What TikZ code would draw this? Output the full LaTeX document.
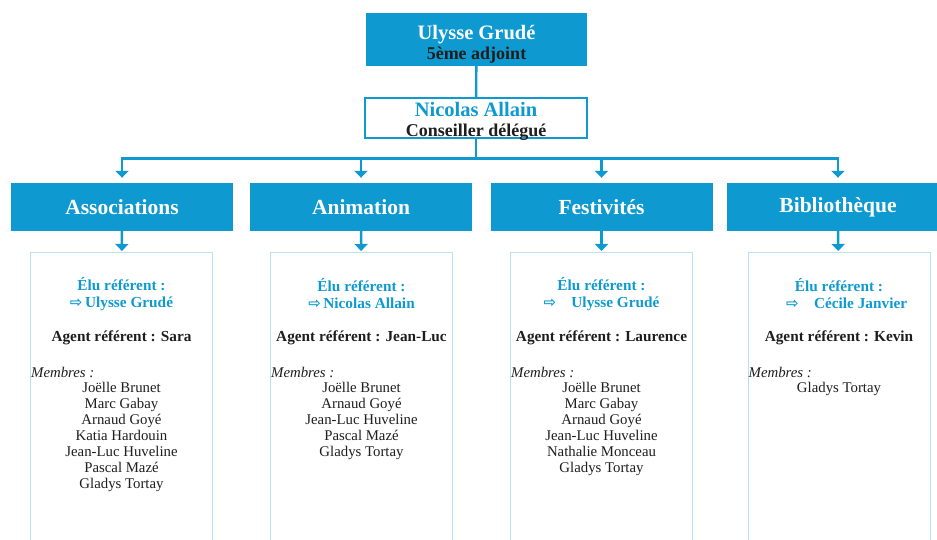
\documentclass[tikz,border=0pt]{standalone}
\usepackage{fontspec}
\setmainfont{Liberation Serif}
\newfontfamily\symfont{DejaVu Sans}
\usetikzlibrary{positioning}
\usetikzlibrary{arrows.meta}
\definecolor{bleu}{RGB}{14,154,208}
\definecolor{bleuclair}{RGB}{188,224,240}
\definecolor{encre}{RGB}{30,30,30}
\tikzstyle{lien}=[draw=bleu, line width=2.4pt]
\tikzstyle{fleche}=[lien, -{Triangle[length=7pt,width=13pt]}]
\tikzstyle{chef}=[fill=bleu, minimum width=221pt, align=center, inner sep=0pt, text height=46.5pt, text depth=6.5pt, font=\bfseries\fontsize{18}{20}\selectfont]
\tikzstyle{conseil}=[draw=bleu, line width=1.2pt, fill=white, minimum width=222pt, align=center, inner sep=0pt, text height=39pt, text depth=1pt, font=\bfseries\fontsize{18}{20.5}\selectfont]
\tikzstyle{pole}=[fill=bleu, minimum width=222pt, minimum height=48pt, text=white, font=\bfseries\fontsize{21.5}{22}\selectfont]
\tikzstyle{detail}=[draw=bleuclair, line width=1pt, minimum width=182pt, minimum height=300pt, anchor=north]
\tikzstyle{elu}=[text=bleu, align=center, font=\bfseries\fontsize{15.3}{17}\selectfont, inner sep=0pt]
\tikzstyle{agent}=[text=encre, font=\bfseries\fontsize{15.3}{17}\selectfont, inner sep=0pt]
\tikzstyle{membres}=[text=encre, anchor=west, font=\itshape\fontsize{14.8}{16}\selectfont, inner sep=0pt]
\tikzstyle{liste}=[text=encre, align=center, anchor=north, font=\fontsize{14.8}{16}\selectfont, inner sep=0pt]
\newcommand{\versdroite}{{\symfont\fontsize{15}{17}\selectfont\char"21E8}}

\begin{document}
\begin{tikzpicture}[x=1pt, y=1pt]
  \clip (0,0) rectangle (937,-540);
  % haut
  \node[chef] (ulysse) at (476.5,-39.5)
    {\textcolor{white}{\fontsize{20.5}{20}\selectfont Ulysse Grudé}\\
     \textcolor{encre}{\fontsize{18}{20}\selectfont 5ème adjoint}};
  \node[conseil] (nicolas) at (476,-118)
    {\textcolor{bleu}{\fontsize{20.5}{20.5}\selectfont Nicolas Allain}\\
     \textcolor{encre}{\fontsize{18}{20.5}\selectfont Conseiller délégué}};
  \draw[lien] (ulysse) -- (nicolas);

  % poles
  \node[pole] (p1) at (122,-207) {Associations};
  \node[pole] (p2) at (361,-207) {Animation};
  \node[pole] (p3) at (601.5,-207) {Festivités};
  \node[pole] (p4) at (838,-207) {Bibliothèque};

  \draw[lien] (nicolas.south) -- ++(0,-20) coordinate (barre);
  \foreach \p in {p1,p2,p3,p4}
    \draw[fleche, shorten >=5pt] (barre) -| (\p.north);

  % cadres
  \node[detail] (d1) at (121.5,-252) {};
  \node[detail] (d2) at (361.5,-252) {};
  \node[detail] (d3) at (601.5,-252) {};
  \node[detail] (d4) at (839,-252) {};
  \foreach \i in {1,2,3,4}
    \draw[fleche, shorten >=1pt] (p\i) -- (d\i);

  % Associations
  \node[elu] (elu1) at ([yshift=-42]d1.north) {Élu référent :\\\versdroite\,Ulysse Grudé};
  \node[agent] (ag1) at ([yshift=-86]d1.north) {Agent référent : Sara};
  \node[membres] (mb1) at ([xshift=1pt,yshift=-120]d1.north west) {Membres :};
  \node[liste] (li1) at ([yshift=-130.5]d1.north) {Joëlle Brunet\\Marc Gabay\\Arnaud Goyé\\Katia Hardouin\\Jean-Luc Huveline\\Pascal Mazé\\Gladys Tortay};

  % Animation
  \node[elu] (elu2) at ([yshift=-42]d2.north) {Élu référent :\\\versdroite\,Nicolas Allain};
  \node[agent] (ag2) at ([yshift=-86]d2.north) {Agent référent : Jean-Luc};
  \node[membres] (mb2) at ([xshift=1pt,yshift=-120]d2.north west) {Membres :};
  \node[liste] (li2) at ([yshift=-130.5]d2.north) {Joëlle Brunet\\Arnaud Goyé\\Jean-Luc Huveline\\Pascal Mazé\\Gladys Tortay};

  % Festivites
  \node[elu] (elu3) at ([yshift=-42]d3.north) {Élu référent :\\\versdroite\quad Ulysse Grudé};
  \node[agent] (ag3) at ([yshift=-86]d3.north) {Agent référent : Laurence};
  \node[membres] (mb3) at ([xshift=1pt,yshift=-120]d3.north west) {Membres :};
  \node[liste] (li3) at ([yshift=-130.5]d3.north) {Joëlle Brunet\\Marc Gabay\\Arnaud Goyé\\Jean-Luc Huveline\\Nathalie Monceau\\Gladys Tortay};

  % Bibliotheque
  \node[elu] (elu4) at ([yshift=-42]d4.north) {Élu référent :\\\quad\versdroite\quad Cécile Janvier};
  \node[agent] (ag4) at ([yshift=-86]d4.north) {Agent référent : Kevin};
  \node[membres] (mb4) at ([xshift=1pt,yshift=-120]d4.north west) {Membres :};
  \node[liste] (li4) at ([yshift=-130.5]d4.north) {Gladys Tortay};
\end{tikzpicture}
\end{document}
